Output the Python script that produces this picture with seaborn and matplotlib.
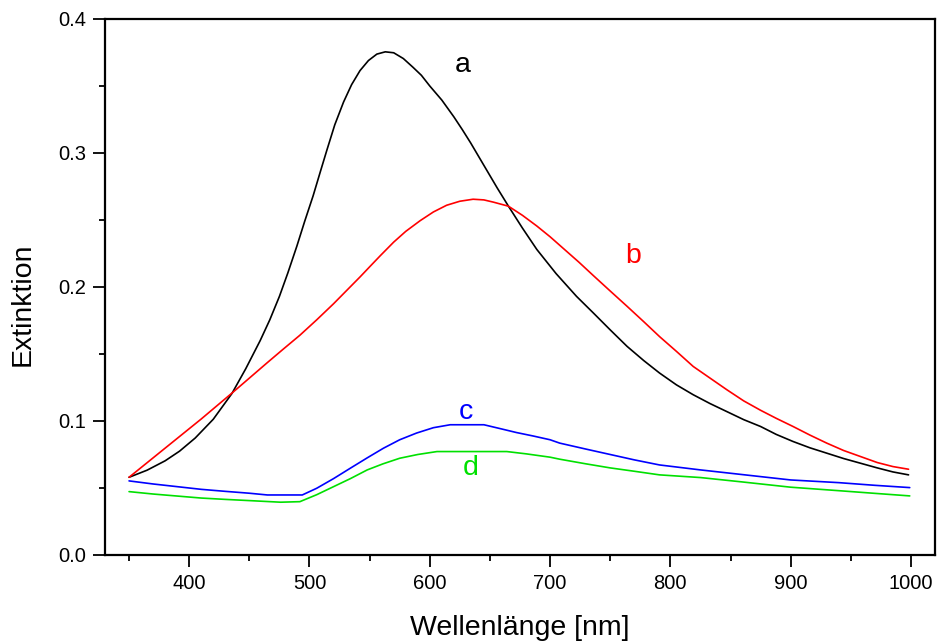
import matplotlib
matplotlib.use("Agg")
import matplotlib.pyplot as plt
from matplotlib.ticker import MultipleLocator, FormatStrFormatter
import numpy as np
import pandas as pd
import seaborn as sns

# Extinction spectra, wavelength in nm
wl_a = [350, 365, 380, 392, 405, 420, 435.5, 447, 459, 467, 475, 482, 489.5, 496, 503,
        509, 514.4, 521, 528.3, 535, 542, 549, 556, 563, 570, 578, 586, 593, 600, 610,
        620, 627, 634, 647, 656, 665.4, 677, 689, 705, 722, 736, 750, 764, 778, 791, 805,
        819, 833, 847, 861, 875, 888, 902, 916, 930, 944, 958, 972, 985, 998]
ext_a = [0.058, 0.0633, 0.0703, 0.0775, 0.0873, 0.1013, 0.1205, 0.139, 0.160, 0.1755,
         0.193, 0.2105, 0.2305, 0.249, 0.268, 0.286, 0.302, 0.321, 0.338, 0.351, 0.3615,
         0.369, 0.3738, 0.3755, 0.3748, 0.3705, 0.364, 0.358, 0.350, 0.3395, 0.327,
         0.3175, 0.3075, 0.2877, 0.274, 0.2603, 0.244, 0.228, 0.210, 0.193, 0.1806,
         0.168, 0.1557, 0.145, 0.1358, 0.127, 0.1196, 0.113, 0.107, 0.101, 0.0959,
         0.090, 0.0847, 0.080, 0.076, 0.072, 0.0685, 0.065, 0.062, 0.0598]

wl_b = [350, 370, 390, 410, 435.5, 450, 464.6, 478, 492, 506, 520, 531, 542, 551, 559,
        570, 580, 592, 603, 614, 625, 636, 645, 653, 665.4, 677, 689, 700, 712, 724,
        736, 750, 764, 778, 791, 805, 819, 833, 847, 861, 875, 888, 902, 916, 930, 944,
        958, 972, 985, 998]
ext_b = [0.058, 0.0725, 0.087, 0.1015, 0.1208, 0.132, 0.1433, 0.1535, 0.164, 0.1755,
         0.1875, 0.1975, 0.2075, 0.216, 0.2235, 0.2335, 0.2415, 0.2495, 0.256, 0.261,
         0.264, 0.2655, 0.265, 0.2633, 0.2603, 0.2535, 0.2455, 0.2375, 0.228, 0.2185,
         0.2085, 0.197, 0.1856, 0.174, 0.163, 0.152, 0.1407, 0.132, 0.1233, 0.115,
         0.108, 0.102, 0.0959, 0.0895, 0.0835, 0.078, 0.0735, 0.069, 0.066, 0.064]

wl_c = [350, 370, 390, 410, 430, 450, 465, 494, 506, 520, 534, 548, 561.5, 575, 589,
        603, 617, 645, 660, 672, 686, 700, 708, 730, 750, 770, 791, 825, 860, 900,
        940, 970, 999]
ext_c = [0.0553, 0.053, 0.051, 0.049, 0.0475, 0.0461, 0.0448, 0.0448, 0.0498, 0.057,
         0.0648, 0.0725, 0.0797, 0.086, 0.091, 0.095, 0.0972, 0.0972, 0.094, 0.0914,
         0.0888, 0.086, 0.0835, 0.079, 0.075, 0.071, 0.0672, 0.0635, 0.060, 0.056,
         0.054, 0.052, 0.0503]

wl_d = [350, 370, 390, 410, 430, 450, 476, 492, 506, 520, 534, 548, 561, 575, 590,
        606, 664, 680, 700, 708, 730, 750, 770, 791, 825, 860, 900, 940, 970, 999]
ext_d = [0.0473, 0.0455, 0.044, 0.0425, 0.0415, 0.0406, 0.0394, 0.0398, 0.045, 0.051,
         0.057, 0.0635, 0.068, 0.0722, 0.075, 0.0772, 0.0772, 0.0755, 0.073, 0.0715,
         0.068, 0.065, 0.0625, 0.0598, 0.0578, 0.0545, 0.0506, 0.048, 0.046, 0.0441]

curve_names = ["a", "b", "c", "d"]
curve_colors = ["#000000", "#ff0000", "#0000ff", "#00e000"]

# Label placement (wavelength, extinction) for each curve tag
label_x = [627, 769, 630, 634]
label_y = [0.366, 0.223, 0.107, 0.065]

frames = []
for name, wl, ext in zip(curve_names, [wl_a, wl_b, wl_c, wl_d], [ext_a, ext_b, ext_c, ext_d]):
    frames.append(pd.DataFrame({"Wellenlänge": wl, "Extinktion": ext, "Probe": name}))
df = pd.concat(frames, ignore_index=True)

sns.set_style("ticks")
plt.rcParams["font.family"] = ["Liberation Sans", "DejaVu Sans"]
plt.rcParams["text.color"] = "black"
plt.rcParams["axes.labelcolor"] = "black"
plt.rcParams["xtick.color"] = "black"
plt.rcParams["ytick.color"] = "black"

fig = plt.figure(figsize=(9.38, 6.43), dpi=100)
ax = fig.add_axes([105 / 938, 1 - 555 / 643, 830 / 938, 536 / 643])

sns.lineplot(data=df, x="Wellenlänge", y="Extinktion", hue="Probe",
             palette=dict(zip(curve_names, curve_colors)), linewidth=1.2,
             legend=False, ax=ax, sort=False, estimator=None)

for name, color, lx, ly in zip(curve_names, curve_colors, label_x, label_y):
    ax.text(lx, ly, name, color=color, fontsize=20.5, ha="center", va="center")

ax.set_xlim(330, 1020)
ax.set_ylim(0, 0.4)
ax.xaxis.set_major_locator(MultipleLocator(100))
ax.xaxis.set_minor_locator(MultipleLocator(50))
ax.yaxis.set_major_locator(MultipleLocator(0.1))
ax.yaxis.set_minor_locator(MultipleLocator(0.05))
ax.yaxis.set_major_formatter(FormatStrFormatter("%.1f"))

ax.tick_params(which="major", direction="out", length=8.5, width=1.3,
               labelsize=14.5, pad=5, color="black", labelcolor="black")
ax.tick_params(which="minor", direction="out", length=4.5, width=1.3, color="black")
ax.tick_params(top=False, right=False, which="both")

for side in ["left", "right", "top", "bottom"]:
    ax.spines[side].set_visible(True)
    ax.spines[side].set_linewidth(1.6)
    ax.spines[side].set_color("black")

ax.set_xlabel("Wellenlänge [nm]", fontsize=20.5, labelpad=16)
ax.set_ylabel("Extinktion", fontsize=20.5)
ax.yaxis.set_label_coords(-0.083, 0.468)

fig.savefig("out.png", dpi=100)
